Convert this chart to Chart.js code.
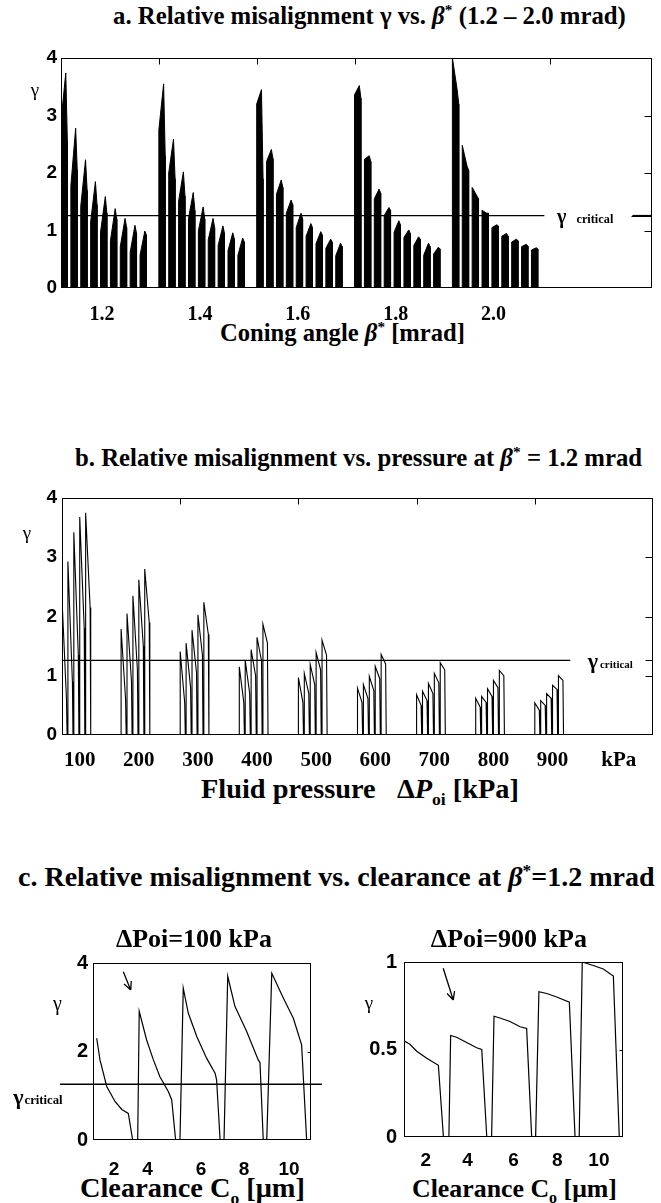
<!DOCTYPE html>
<html>
<head>
<meta charset="utf-8">
<title>Relative misalignment</title>
<script src="https://cdn.jsdelivr.net/npm/chart.js@4.4.0/dist/chart.umd.min.js"></script>
<style>
  body { margin: 0; background: #fff; }
  #page { position: relative; width: 661px; height: 1203px; overflow: hidden; }
  .plot { position: absolute; }
  .label {
    position: absolute;
    white-space: nowrap;
    line-height: 1;
    font-family: "Liberation Serif", "Times New Roman", serif;
    font-weight: bold;
    color: #000;
  }
  .label sup, .label sub { line-height: 0; font-size: 62%; }
</style>
</head>
<body>
<div id="page">
  <div class="label" data-x="113" data-w="513" data-b="25">a. Relative misalignment γ vs. <i>β</i><sup>*</sup> (1.2 – 2.0 mrad)</div>
  <div class="label" data-x="220" data-w="245" data-b="342">Coning angle <i>β</i><sup>*</sup> [mrad]</div>
  <div class="label" data-x="75" data-w="567" data-b="467">b. Relative misalignment vs. pressure at <i>β</i><sup>*</sup> = 1.2 mrad</div>
  <div class="label" data-x="201" data-w="318" data-b="799">Fluid pressure&nbsp;&nbsp;&nbsp;Δ<i>P</i><sub>oi</sub> [kPa]</div>
  <div class="label" data-x="18" data-w="637" data-b="886">c. Relative misalignment vs. clearance at <i>β</i><sup>*</sup>=1.2 mrad</div>
  <div class="label" data-x="80" data-w="225" data-b="1198">Clearance C<sub>o</sub> [μm]</div>
  <div class="label" data-x="412" data-w="205" data-b="1198">Clearance C<sub>o</sub> [μm]</div>

  <div class="plot" style="left:0;top:40px;width:661px;height:290px"><canvas id="coning"></canvas></div>
  <div class="plot" style="left:0;top:480px;width:661px;height:300px"><canvas id="pressure"></canvas></div>
  <div class="plot" style="left:0;top:900px;width:335px;height:280px"><canvas id="clear100"></canvas></div>
  <div class="plot" style="left:330px;top:900px;width:331px;height:280px"><canvas id="clear900"></canvas></div>
</div>

<script>
// ---- data ----

const gammaCritical = 1.26;

// a. one block per coning angle, 9 pressure bars per block (100..900 kPa)
const coningLabels = ["1.2", "1.4", "1.6", "1.8", "2.0"];
// gamma at the left edge, near the top (3/4 across) and at the right edge of each bar
const barLeft = [
  [2.9, 1.78, 1.42, 1.15, 0.97, 0.82, 0.72, 0.62, 0.57],
  [2.75, 2.0, 1.51, 1.21, 0.99, 0.84, 0.74, 0.65, 0.57],
  [3.2, 2.2, 1.63, 1.3, 1.05, 0.9, 0.77, 0.69, 0.56],
  [3.36, 2.24, 1.55, 1.26, 0.97, 0.88, 0.74, 0.57, 0.59],
  [4.0, 2.48, 1.75, 1.35, 1.05, 0.9, 0.8, 0.72, 0.66],
];
const barTop = [
  [3.74, 2.78, 2.23, 1.85, 1.59, 1.38, 1.21, 1.09, 0.99],
  [3.55, 2.59, 2.02, 1.66, 1.41, 1.21, 1.08, 0.96, 0.87],
  [3.45, 2.41, 1.88, 1.53, 1.3, 1.12, 0.98, 0.85, 0.78],
  [3.52, 2.3, 1.72, 1.4, 1.17, 1.01, 0.89, 0.78, 0.71],
  [3.45, 2.12, 1.6, 1.3, 1.1, 0.95, 0.85, 0.76, 0.7],
];
const barRight = [
  [2.55, 2.05, 1.7, 1.45, 1.3, 1.2, 1.05, 0.95, 0.92],
  [2.3, 1.9, 1.6, 1.35, 1.2, 1.05, 0.95, 0.85, 0.8],
  [1.9, 2.25, 1.75, 1.45, 1.2, 1.05, 0.92, 0.8, 0.72],
  [3.3, 2.2, 1.65, 1.35, 1.1, 0.95, 0.85, 0.72, 0.68],
  [3.2, 2.05, 1.55, 1.3, 1.08, 0.9, 0.82, 0.73, 0.68],
];

// b. 9 pressures, 5 clearance cycles each: gamma at the start and the end of each cycle
const pressureLabels = ["100", "200", "300", "400", "500", "600", "700", "800", "900", "kPa"];
const cyclePeak = [
  [2.3, 2.93, 3.42, 3.68, 3.75],
  [1.79, 2.05, 2.35, 2.62, 2.8],
  [1.41, 1.55, 1.77, 2.03, 2.24],
  [1.15, 1.26, 1.44, 1.65, 1.87],
  [0.97, 1.04, 1.19, 1.39, 1.6],
  [0.79, 0.85, 0.99, 1.16, 1.36],
  [0.68, 0.74, 0.87, 1.04, 1.22],
  [0.62, 0.65, 0.78, 0.92, 1.09],
  [0.54, 0.58, 0.7, 0.84, 1.0],
];
const cycleEnd = [
  [0.6, 0.9, 1.35, 1.8, 2.15],
  [0.6, 0.9, 1.1, 1.5, 1.9],
  [0.55, 0.8, 1.05, 1.35, 1.7],
  [0.55, 0.7, 1.0, 1.25, 1.55],
  [0.55, 0.7, 0.85, 1.1, 1.35],
  [0.55, 0.62, 0.75, 0.95, 1.2],
  [0.5, 0.58, 0.7, 0.88, 1.1],
  [0.47, 0.55, 0.65, 0.8, 1.0],
  [0.42, 0.5, 0.62, 0.77, 0.92],
];

// c. gamma against clearance C_o [um]
const clearance100 = [1.17, 1.32, 1.63, 2.01, 2.32, 2.62, 2.82, 3.05,
  3.12, 3.46, 3.77, 4.07, 4.46, 4.61, 4.79, 4.99,
  5.14, 5.37, 5.76, 6.21, 6.6, 6.67, 6.83, 7.01,
  7.18, 7.51, 8.05, 8.58, 8.66, 8.81, 8.97,
  9.2, 9.73, 10.19, 10.57, 10.8, 11.0];
const gamma100 = [2.3, 1.81, 1.21, 0.87, 0.69, 0.6, 0, 0,
  2.91, 2.26, 1.81, 1.43, 1.09, 0.91, 0, 0,
  3.43, 2.87, 2.34, 1.85, 1.51, 1.36, 0, 0,
  3.7, 3.02, 2.45, 1.81, 1.75, 0, 0,
  3.77, 3.21, 2.75, 2.15, 0, 0];
const clearance900 = [1.0, 1.27, 1.58, 2.04, 2.57, 2.8, 3.05,
  3.13, 3.4, 3.86, 4.32, 4.55, 4.78, 5.0,
  5.11, 5.38, 5.84, 6.3, 6.6, 6.83, 7.01,
  7.16, 7.52, 7.97, 8.55, 8.81, 9.0,
  9.14, 9.64, 10.1, 10.56, 10.83, 11.0];
const gamma900 = [0.55, 0.53, 0.49, 0.45, 0.41, 0, 0,
  0.58, 0.57, 0.54, 0.51, 0.5, 0, 0,
  0.69, 0.68, 0.66, 0.63, 0.62, 0, 0,
  0.83, 0.82, 0.8, 0.77, 0, 0,
  1.0, 0.98, 0.96, 0.92, 0, 0];
const clearanceLabels = ["2", "4", "6", "8", "10"];
const clearanceTicks100 = [1.96, 3.5, 5.95, 7.93, 9.99];
const clearanceTicks900 = [2.0, 3.9, 6.0, 8.0, 9.9];

// ---- text sizing: fit every heading to its width, sit it on its baseline ----
document.querySelectorAll(".label").forEach((el) => {
  el.style.left = el.dataset.x + "px";
  el.style.fontSize = "20px";
  const fs = (20 * el.dataset.w) / el.getBoundingClientRect().width;
  el.style.fontSize = fs.toFixed(2) + "px";
  el.style.top = (el.dataset.b - 0.8375 * fs).toFixed(1) + "px";
});

// ---- frame, inward ticks and annotations ----
const serif = '"Liberation Serif", "Times New Roman", serif';
const sans = '"Liberation Sans", Arial, sans-serif';

const frame = {
  id: "frame",
  afterDatasetsDraw(chart, args, o) {
    const { ctx, chartArea: a } = chart;
    const x = chart.scales.x;
    const y = chart.scales.y;
    const L = Math.round(a.left) + 0.5;
    const R = Math.round(a.right) - 0.5;
    const T = Math.round(a.top) + 0.5;
    const B = Math.round(a.bottom) - 0.5;
    ctx.save();
    ctx.strokeStyle = "#000";
    ctx.fillStyle = "#000";
    ctx.lineWidth = 1;
    ctx.strokeRect(L, T, R - L, B - T);

    ctx.beginPath();
    (o.topTicks || []).forEach((v) => {
      const px = Math.round(x.getPixelForValue(v)) + 0.5;
      ctx.moveTo(px, T);
      ctx.lineTo(px, T + 6);
    });
    (o.rightTicks || []).forEach(([v, len]) => {
      const py = Math.round(y.getPixelForValue(v)) + 0.5;
      ctx.moveTo(R, py);
      ctx.lineTo(R - len, py);
    });
    ctx.stroke();

    ctx.textBaseline = "alphabetic";
    // y axis symbol
    if (o.gamma) {
      ctx.textAlign = "center";
      ctx.font = `${o.gamma.size}px ${serif}`;
      ctx.fillText("γ", a.left + o.gamma.dx, y.getPixelForValue(o.gamma.y));
    }
    // gamma critical label
    if (o.crit) {
      const c = o.crit;
      const px = x.getPixelForValue(c.x);
      const py = y.getPixelForValue(c.y);
      ctx.textAlign = "left";
      ctx.font = `bold ${c.size}px ${serif}`;
      ctx.fillText("γ", px, py);
      const w = ctx.measureText("γ").width;
      ctx.font = `bold ${c.sub}px ${serif}`;
      ctx.fillText("critical", px + w + c.gap, py);
    }
    // pressure note and its arrow
    if (o.note) {
      const n = o.note;
      ctx.textAlign = "center";
      ctx.font = `bold ${n.size}px ${serif}`;
      ctx.fillText(n.text, x.getPixelForValue(n.x), y.getPixelForValue(n.y));
      const [x1, y1, x2, y2] = n.arrow;
      const ax = x.getPixelForValue(x1);
      const ay = y.getPixelForValue(y1);
      const bx = x.getPixelForValue(x2);
      const by = y.getPixelForValue(y2);
      const ang = Math.atan2(by - ay, bx - ax);
      ctx.lineWidth = 1.3;
      ctx.beginPath();
      ctx.moveTo(ax, ay);
      ctx.lineTo(bx, by);
      [0.45, -0.45].forEach((d) => {
        ctx.moveTo(bx, by);
        ctx.lineTo(bx - 9 * Math.cos(ang + d), by - 9 * Math.sin(ang + d));
      });
      ctx.stroke();
    }
    ctx.restore();
  },
};

function makeChart(id, datasets, c) {
  return new Chart(document.getElementById(id), {
    type: "line",
    data: { datasets },
    plugins: [frame],
    options: {
      animation: false,
      responsive: true,
      maintainAspectRatio: false,
      devicePixelRatio: 1,
      events: [],
      layout: { padding: c.padding },
      elements: { point: { radius: 0 }, line: { tension: 0 } },
      plugins: { legend: { display: false }, tooltip: { enabled: false }, frame: c.frame },
      scales: {
        x: {
          type: "linear",
          min: c.xMin,
          max: c.xMax,
          grid: { display: false, drawTicks: false },
          border: { display: false },
          afterFit: (s) => { s.height = c.xHeight; },
          afterBuildTicks: (s) => { s.ticks = c.xTicks.map((v) => ({ value: v })); },
          ticks: {
            autoSkip: false,
            maxRotation: 0,
            padding: c.xPad,
            color: "#000",
            font: c.xFont,
            callback: (v, i) => c.xLabels[i],
          },
        },
        y: {
          type: "linear",
          min: c.yMin,
          max: c.yMax,
          grid: { display: false, drawTicks: false },
          border: { display: false },
          afterFit: (s) => { s.width = c.yWidth; },
          ticks: {
            stepSize: c.yStep,
            padding: c.yPad,
            color: "#000",
            font: c.yFont,
            callback: (v) => String(v),
          },
        },
      },
    },
  });
}

const critLine = (x0, x1) => ({
  data: [{ x: x0, y: gammaCritical }, { x: x1, y: gammaCritical }],
  borderColor: "#000",
  borderWidth: 1.3,
  clip: false,
});

// a. coning angle blocks
const BAR_STEP = 0.101;
const BAR_W = 0.065;
const coningPoints = [];
coningLabels.forEach((_, g) => {
  barTop[g].forEach((top, s) => {
    const x0 = g + s * BAR_STEP;
    coningPoints.push(
      { x: x0, y: 0 },
      { x: x0, y: barLeft[g][s] },
      { x: x0 + 0.75 * BAR_W, y: top },
      { x: x0 + BAR_W, y: barRight[g][s] },
      { x: x0 + BAR_W, y: 0 }
    );
  });
});

makeChart("coning", [
  { data: coningPoints, borderColor: "#000", backgroundColor: "#000", borderWidth: 1, fill: "origin" },
  critLine(0, 4.94),
  critLine(5.84, 6.04),
], {
  padding: { top: 18, right: 9, bottom: 0, left: 0 },
  xMin: 0, xMax: 6.04, xHeight: 42, xPad: 15,
  xTicks: coningLabels.map((_, g) => g + 0.42),
  xLabels: coningLabels,
  xFont: { family: serif, size: 20, weight: "bold" },
  yMin: 0, yMax: 4, yStep: 1, yWidth: 61, yPad: 4,
  yFont: { family: sans, size: 19, weight: "bold" },
  frame: {
    topTicks: [1, 2, 3, 4, 5],
    rightTicks: [[1, 7], [2, 7], [3, 7], [gammaCritical, 20]],
    gamma: { dx: -26, y: 3.34, size: 19 },
    crit: { x: 5.07, y: 1.13, size: 20, sub: 12.3, gap: 10 },
  },
});

// b. pressure blocks
const CYCLE = 0.05;
const pressurePoints = [];
cyclePeak.forEach((peaks, k) => {
  peaks.forEach((p, i) => {
    const x0 = k * 0.5 + i * CYCLE;
    pressurePoints.push(
      { x: x0, y: 0 },
      { x: x0, y: p },
      { x: x0 + 0.038, y: cycleEnd[k][i] },
      { x: x0 + 0.043, y: 0 }
    );
  });
});

makeChart("pressure", [
  { data: pressurePoints, borderColor: "#000", borderWidth: 1.1, fill: false },
  critLine(0, 4.3),
], {
  padding: { top: 18, right: 8, bottom: 0, left: 0 },
  xMin: 0, xMax: 5, xHeight: 45, xPad: 13,
  xTicks: pressureLabels.map((_, k) => (k < 9 ? k * 0.5 + 0.15 : 4.71)),
  xLabels: pressureLabels,
  xFont: { family: serif, size: 21, weight: "bold" },
  yMin: 0, yMax: 4, yStep: 1, yWidth: 62, yPad: 5,
  yFont: { family: sans, size: 19, weight: "bold" },
  frame: {
    topTicks: [1, 2, 3, 4],
    rightTicks: [[1, 7], [2, 7], [3, 7], [gammaCritical, 7]],
    gamma: { dx: -35, y: 3.3, size: 19 },
    crit: { x: 4.447, y: 1.13, size: 22, sub: 11, gap: 2 },
  },
});

// c. clearance sweeps at 100 and 900 kPa
makeChart("clear100", [
  { data: clearance100.map((x, i) => ({ x, y: gamma100[i] })), borderColor: "#000", borderWidth: 1.2, fill: false },
  critLine(-0.51, 11.5),
], {
  padding: { top: 63, right: 24, bottom: 0, left: 0 },
  xMin: 1, xMax: 11, xHeight: 40, xPad: 18,
  xTicks: clearanceTicks100,
  xLabels: clearanceLabels,
  xFont: { family: sans, size: 19, weight: "bold" },
  yMin: 0, yMax: 4, yStep: 2, yWidth: 93, yPad: 5,
  yFont: { family: sans, size: 20, weight: "bold" },
  frame: {
    rightTicks: [[2, 3]],
    gamma: { dx: -35.5, y: 2.94, size: 20 },
    crit: { x: -2.66, y: 0.81, size: 22, sub: 12.7, gap: 1 },
    note: { text: "ΔPoi=100 kPa", x: 5.63, y: 4.36, size: 26, arrow: [2.39, 3.8, 2.73, 3.39] },
  },
});

makeChart("clear900", [
  { data: clearance900.map((x, i) => ({ x, y: gamma900[i] })), borderColor: "#000", borderWidth: 1.2, fill: false },
], {
  padding: { top: 62, right: 38, bottom: 0, left: 0 },
  xMin: 1, xMax: 11, xHeight: 43, xPad: 12,
  xTicks: clearanceTicks900,
  xLabels: clearanceLabels,
  xFont: { family: sans, size: 19, weight: "bold" },
  yMin: 0, yMax: 1, yStep: 0.5, yWidth: 74, yPad: 7,
  yFont: { family: sans, size: 20, weight: "bold" },
  frame: {
    rightTicks: [[0.5, 3]],
    gamma: { dx: -35, y: 0.73, size: 19 },
    note: { text: "ΔPoi=900 kPa", x: 5.79, y: 1.086, size: 26, arrow: [2.79, 0.964, 3.25, 0.783] },
  },
});
</script>
</body>
</html>
